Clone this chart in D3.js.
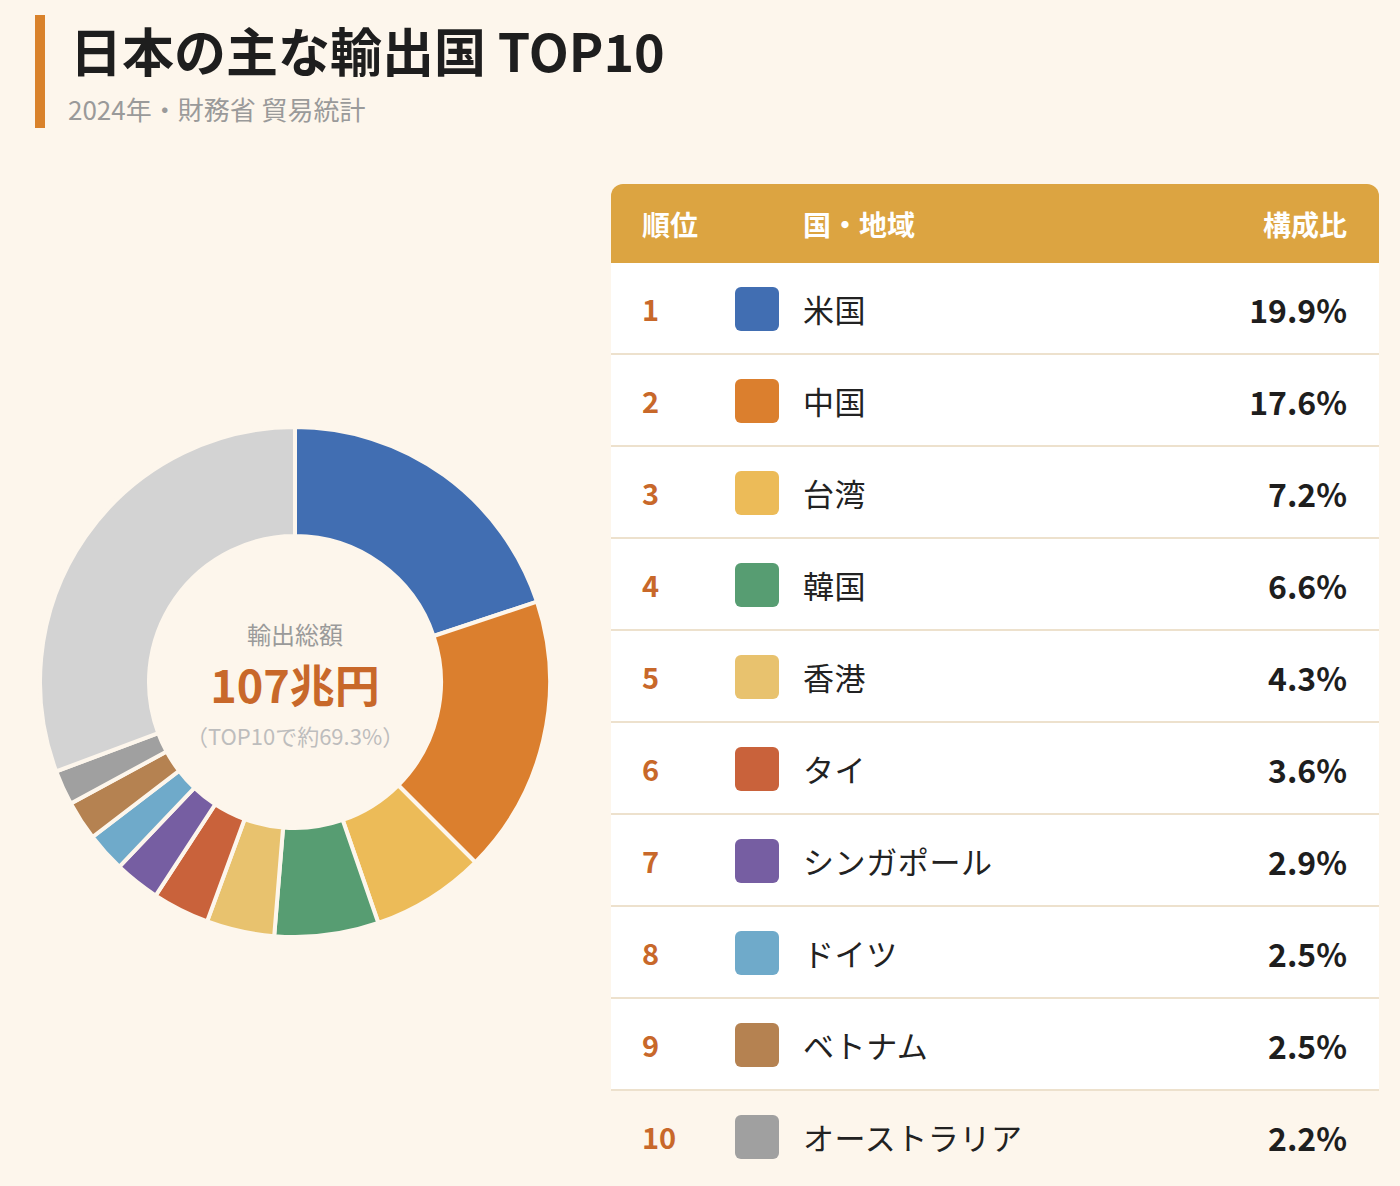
<!DOCTYPE html>
<html>
<head>
<meta charset="utf-8">
<script src="https://cdn.jsdelivr.net/npm/d3@7"></script>
<style>
  html, body { margin: 0; padding: 0; background: #fdf6ec; }
  svg { display: block; font-family: "Noto Sans CJK JP", "Noto Sans", sans-serif; }
</style>
</head>
<body>
<div id="chart"></div>
<script>
// Data (2024, 財務省 貿易統計)
const countries = ["米国", "中国", "台湾", "韓国", "香港", "タイ", "シンガポール", "ドイツ", "ベトナム", "オーストラリア"];
const shares = [19.9, 17.6, 7.2, 6.6, 4.3, 3.6, 2.9, 2.5, 2.5, 2.2];
const colors = ["#416eb2", "#db7f2e", "#ecbb58", "#579d72", "#e8c26e", "#c9623b", "#765ea2", "#6faaca", "#b58251", "#a0a0a0"];
const otherShare = 30.7;
const otherColor = "#d3d3d3";
const totalLabel = "107兆円";

const W = 1400, H = 1186;
const bg = "#fdf6ec";

const svg = d3.select("#chart").append("svg")
    .attr("width", W)
    .attr("height", H);

// Title block
svg.append("rect")
    .attr("x", 35).attr("y", 15)
    .attr("width", 10).attr("height", 113)
    .attr("fill", "#d9822b");
svg.append("text")
    .attr("x", 70).attr("y", 72)
    .attr("font-size", 52).attr("font-weight", 700)
    .attr("fill", "#1e1e1e")
    .text("日本の主な輸出国 TOP10");
svg.append("text")
    .attr("x", 68).attr("y", 120)
    .attr("font-size", 26)
    .attr("fill", "#9a9a9a")
    .text("2024年・財務省 貿易統計");

// Donut
const slices = countries.map((c, i) => ({name: c, value: shares[i], color: colors[i]}))
    .concat([{name: "その他", value: otherShare, color: otherColor}]);

const pie = d3.pie().sort(null).value(d => d.value);
const arc = d3.arc().innerRadius(146).outerRadius(255);

const donut = svg.append("g").attr("transform", "translate(295,682)");
donut.selectAll("path")
    .data(pie(slices))
    .join("path")
    .attr("d", arc)
    .attr("fill", d => d.data.color)
    .attr("stroke", bg)
    .attr("stroke-width", 4)
    .attr("stroke-linejoin", "miter");

donut.append("text")
    .attr("y", -38).attr("text-anchor", "middle")
    .attr("font-size", 24).attr("fill", "#9a9a9a")
    .text("輸出総額");
donut.append("text")
    .attr("y", 21).attr("text-anchor", "middle")
    .attr("font-size", 45).attr("font-weight", 700)
    .attr("fill", "#c8682a")
    .text(totalLabel);
donut.append("text")
    .attr("y", 63).attr("text-anchor", "middle")
    .attr("font-size", 22).attr("fill", "#bdbdbd")
    .text("（TOP10で約" + d3.sum(shares).toFixed(1) + "%）");

// Table
const tx = 611, tw = 768, headTop = 184, headH = 79, rowH = 92;
const y = d3.scaleBand()
    .domain(d3.range(countries.length))
    .range([headTop + headH, headTop + headH + rowH * countries.length]);

const head = svg.append("g");
head.append("rect")
    .attr("x", tx).attr("y", headTop)
    .attr("width", tw).attr("height", headH)
    .attr("rx", 12).attr("fill", "#dca441");
head.append("rect")
    .attr("x", tx).attr("y", headTop + 20)
    .attr("width", tw).attr("height", headH - 20)
    .attr("fill", "#dca441");
const headY = headTop + 52;
head.append("text").attr("x", 642).attr("y", headY)
    .attr("font-size", 28).attr("font-weight", 700).attr("fill", "#fff").text("順位");
head.append("text").attr("x", 803).attr("y", headY)
    .attr("font-size", 28).attr("font-weight", 700).attr("fill", "#fff").text("国・地域");
head.append("text").attr("x", 1347).attr("y", headY).attr("text-anchor", "end")
    .attr("font-size", 28).attr("font-weight", 700).attr("fill", "#fff").text("構成比");

const rows = svg.append("g").selectAll("g")
    .data(countries)
    .join("g")
    .attr("transform", (d, i) => `translate(0,${y(i)})`);

rows.append("rect")
    .attr("x", tx).attr("width", tw)
    .attr("height", y.bandwidth())
    .attr("fill", (d, i) => i === countries.length - 1 ? bg : "#fff");
rows.filter((d, i) => i < countries.length - 1)
    .append("rect")
    .attr("x", tx).attr("y", rowH - 2)
    .attr("width", tw).attr("height", 2)
    .attr("fill", "#ede1cd");

rows.append("text")
    .attr("x", 642).attr("y", 58)
    .attr("font-size", 29).attr("font-weight", 700)
    .attr("fill", "#c8682a")
    .text((d, i) => i + 1);
rows.append("rect")
    .attr("x", 735).attr("y", 24)
    .attr("width", 44).attr("height", 44)
    .attr("rx", 6)
    .attr("fill", (d, i) => colors[i]);
rows.append("text")
    .attr("x", 803).attr("y", 59)
    .attr("font-size", 31)
    .attr("letter-spacing", 0.6)
    .attr("fill", "#222")
    .text(d => d);
rows.append("text")
    .attr("x", 1347).attr("y", 60)
    .attr("text-anchor", "end")
    .attr("font-size", 32).attr("font-weight", 700)
    .attr("fill", "#1e1e1e")
    .text((d, i) => shares[i].toFixed(1) + "%");
</script>
</body>
</html>
